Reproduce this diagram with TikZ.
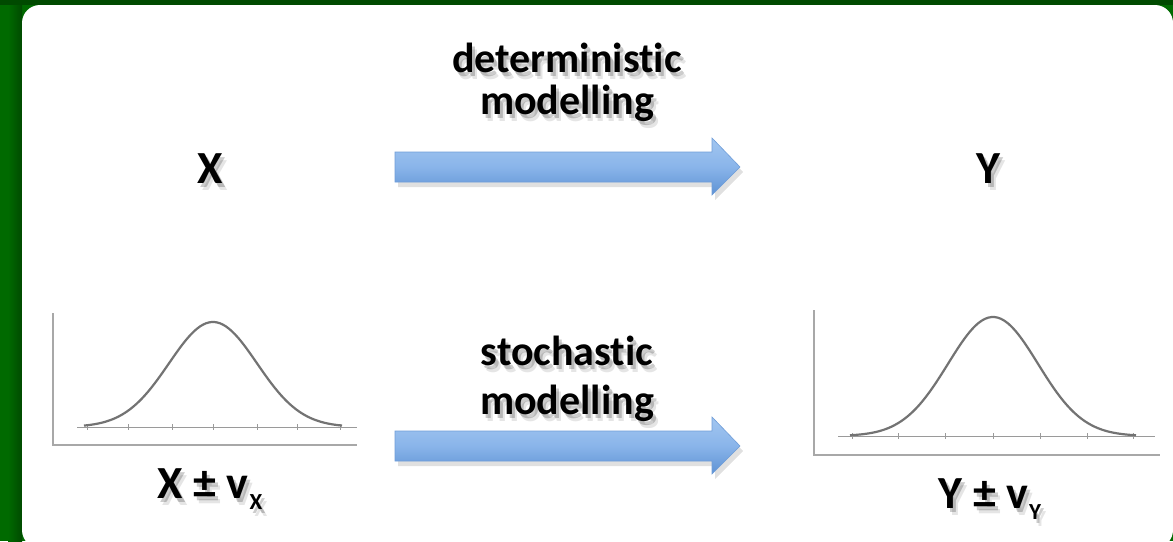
\documentclass[tikz,border=0pt]{standalone}
\usepackage{fontspec}
\setmainfont[Ligatures={NoCommon,NoDiscretionary,NoRare}]{Carlito}
\definecolor{bggreen}{HTML}{006A00}
\definecolor{darkgreen}{HTML}{004A00}
\definecolor{arrtop}{HTML}{A2C6F0}
\definecolor{arrmid}{HTML}{8AB5EA}
\definecolor{arrbot}{HTML}{5E92D4}
\definecolor{arredge}{HTML}{6F9DD8}
\definecolor{axisgray}{HTML}{A8A8A8}
\definecolor{curvegray}{HTML}{737373}
\definecolor{basegray}{HTML}{9A9A9A}
\tikzset{
  lbl/.style={inner sep=0pt, anchor=base, font=\bfseries\fontsize{42}{46}\selectfont, text=black},
  biglbl/.style={lbl, font=\bfseries\fontsize{46}{50}\selectfont},
  shad/.style={text=black, opacity=0.2},
  blockarrow/.style={top color=arrtop, bottom color=arrbot, middle color=arrmid, draw=arredge, line width=0.6pt},
  arrowshadow/.style={fill=black, opacity=0.12},
  axisline/.style={draw=axisgray, line width=1.6pt},
  baseline/.style={draw=basegray, line width=0.8pt},
  tickline/.style={draw=basegray, line width=0.8pt},
  bellcurve/.style={draw=curvegray, line width=2.2pt, smooth},
}
\newcommand\shadowtext[5]{%
  \node[#5, shad] (#1s1) at (#2+3,#3+4) {#4};
  \node[#5, shad, opacity=0.1] (#1s2) at (#2+5,#3+7) {#4};
  \node[#5] (#1) at (#2,#3) {#4};}
\newcommand\subX[1]{\kern1pt\raisebox{-11pt}{\fontsize{23}{23}\selectfont #1}}
\begin{document}
\begin{tikzpicture}[x=1pt,y=-1pt]
\useasboundingbox (0,0) rectangle (1173,541);
\begin{scope}
  \clip (0,0) rectangle (1173,541);
  \fill[bggreen] (0,0) rectangle (1173,541);
  \shade[left color=bggreen, right color=darkgreen] (8,0) rectangle (22,541);
  \fill[darkgreen] (0,0) rectangle (1173,5);
  \fill[white, rounded corners=18pt] (22,5) rectangle (1173,548);
\end{scope}

% top row
\shadowtext{det1}{567}{72}{deterministic}{lbl}
\shadowtext{det2}{567}{114}{modelling}{lbl}
\shadowtext{X}{210}{183}{X}{biglbl}
\shadowtext{Y}{988}{183}{Y}{biglbl}

\fill[arrowshadow] (398,157) -- (715,157) -- (715,143) -- (743,172) -- (715,200) -- (715,187) -- (398,187) -- cycle;
\shade[blockarrow] (395,152) -- (712,152) -- (712,138) -- (740,167) -- (712,195) -- (712,182) -- (395,182) -- cycle;

% bottom row
\shadowtext{sto1}{567}{365}{stochastic}{lbl}
\shadowtext{sto2}{567}{414}{modelling}{lbl}

\fill[arrowshadow] (398,436) -- (715,436) -- (715,422) -- (743,451) -- (715,479) -- (715,466) -- (398,466) -- cycle;
\shade[blockarrow] (395,431) -- (712,431) -- (712,417) -- (740,446) -- (712,474) -- (712,461) -- (395,461) -- cycle;

% left chart
\draw[axisline] (53,313) -- (53,445) -- (357,445);
\draw[baseline] (77,427) -- (357,427);
\foreach \t in {87,128,172,213,257,297,340} \draw[tickline] (\t,424) -- (\t,430);
\draw[bellcurve] plot[domain=84:342, samples=90] (\x,{427-105*exp(-((\x-213)/44)^2/2)});
\shadowtext{XV}{210}{498}{X ± v\subX{X}}{biglbl}

% right chart
\draw[axisline] (814,310) -- (814,455) -- (1160,455);
\draw[baseline] (838,436) -- (1155,436);
\foreach \t in {852,898,945,993,1040,1087,1133} \draw[tickline] (\t,433) -- (\t,439);
\draw[bellcurve] plot[domain=850:1136, samples=90] (\x,{436-119*exp(-((\x-993)/45)^2/2)});
\shadowtext{YV}{990}{508}{Y ± v\subX{Y}}{biglbl}
\end{tikzpicture}
\end{document}
